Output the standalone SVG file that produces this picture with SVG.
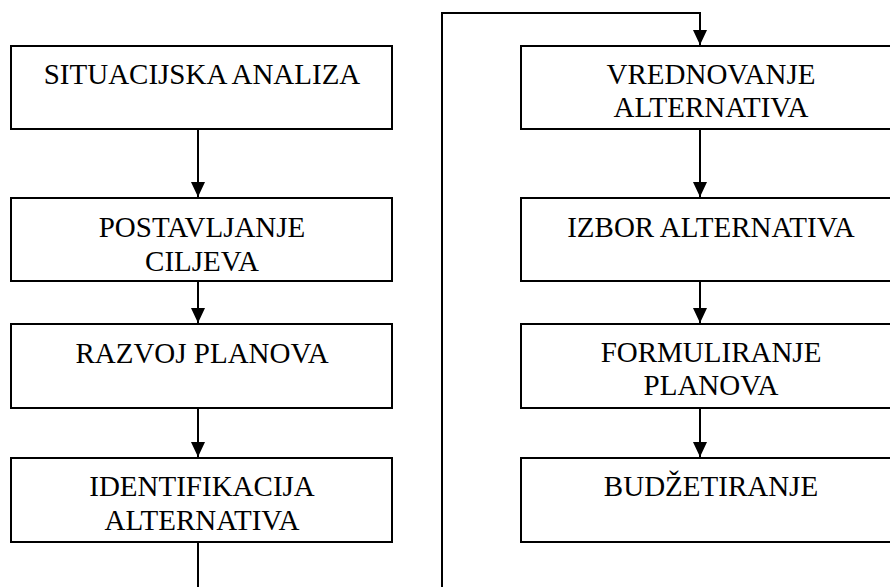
<svg xmlns="http://www.w3.org/2000/svg" width="890" height="587" viewBox="0 0 890 587">
<style>
.box{fill:#fff;stroke:#000;stroke-width:2}
.t{font-family:"Liberation Serif","Times New Roman",serif;font-size:29px;fill:#000;text-anchor:middle}
.c{fill:none;stroke:#000;stroke-width:2}
</style>
<defs>
<marker id="ah" markerUnits="userSpaceOnUse" markerWidth="15" markerHeight="15" refX="15" refY="7" orient="auto" viewBox="0 0 15 14">
<path d="M0,0 L15,7 L0,14 z" fill="#000"/>
</marker>
</defs>
<rect width="890" height="587" fill="#fff"/>
<g id="n1"><rect class="box" x="11" y="46" width="381" height="83"/><text class="t" x="202" y="84">SITUACIJSKA ANALIZA</text></g>
<g id="n2"><rect class="box" x="11" y="198" width="381" height="83"/><text class="t" x="202" y="237">POSTAVLJANJE</text><text class="t" x="202" y="271">CILJEVA</text></g>
<g id="n3"><rect class="box" x="11" y="324" width="381" height="84"/><text class="t" x="202" y="363">RAZVOJ PLANOVA</text></g>
<g id="n4"><rect class="box" x="11" y="458" width="381" height="84"/><text class="t" x="202" y="496">IDENTIFIKACIJA</text><text class="t" x="202" y="530">ALTERNATIVA</text></g>
<g id="n5"><rect class="box" x="521" y="46" width="380" height="83"/><text class="t" x="711" y="84">VREDNOVANJE</text><text class="t" x="711" y="117">ALTERNATIVA</text></g>
<g id="n6"><rect class="box" x="521" y="198" width="380" height="83"/><text class="t" x="711" y="237">IZBOR ALTERNATIVA</text></g>
<g id="n7"><rect class="box" x="521" y="324" width="380" height="84"/><text class="t" x="711" y="362">FORMULIRANJE</text><text class="t" x="711" y="395">PLANOVA</text></g>
<g id="n8"><rect class="box" x="521" y="458" width="380" height="84"/><text class="t" x="711" y="496">BUDŽETIRANJE</text></g>
<g id="connectors">
<line class="c" x1="198" y1="129" x2="198" y2="197" marker-end="url(#ah)"/>
<line class="c" x1="198" y1="281" x2="198" y2="323" marker-end="url(#ah)"/>
<line class="c" x1="198" y1="408" x2="198" y2="457" marker-end="url(#ah)"/>
<polyline class="c" points="198,542 198,590"/>
<polyline class="c" points="442,590 442,13 700,13 700,45" marker-end="url(#ah)"/>
<line class="c" x1="700" y1="129" x2="700" y2="197" marker-end="url(#ah)"/>
<line class="c" x1="700" y1="281" x2="700" y2="323" marker-end="url(#ah)"/>
<line class="c" x1="700" y1="408" x2="700" y2="457" marker-end="url(#ah)"/>
</g>
</svg>
